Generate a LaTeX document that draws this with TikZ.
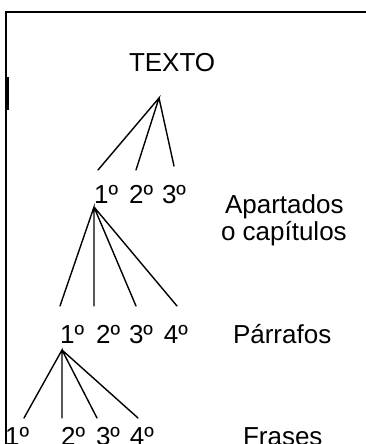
\documentclass[tikz,border=0pt]{standalone}
\usepackage{fontspec}
\setmainfont{Liberation Sans}
\begin{document}
\begin{tikzpicture}[x=1pt,y=-1pt,
  lbl/.style={anchor=base west,inner sep=0pt,outer sep=0pt,font=\fontsize{26}{30}\selectfont},
  branch/.style={line width=1.4pt,line cap=round},
  frame/.style={line width=2pt}]
\useasboundingbox (0,0) rectangle (366,444);
% frame
\draw[frame] (366,12) -- (6,12) -- (6,444);
\fill (5,77) rectangle (9,110);
% texts
\node[lbl] (texto) at (129,71) {TEXTO};
\node[lbl] (a1) at (94.2,203) {1º};
\node[lbl] (a2) at (129.2,203) {2º};
\node[lbl] (a3) at (162,203) {3º};
\node[lbl] (apart) at (225,213) {Apartados};
\node[lbl] (capit) at (221,240.5) {o capítulos};
\node[lbl] (p1) at (60.2,343) {1º};
\node[lbl] (p2) at (96.2,343) {2º};
\node[lbl] (p3) at (129,343) {3º};
\node[lbl] (p4) at (163.8,343) {4º};
\node[lbl] (parr) at (233,343) {Párrafos};
\node[lbl] (f1) at (5.2,445.6) {1º};
\node[lbl] (f2) at (61.2,445.6) {2º};
\node[lbl] (f3) at (96,445.6) {3º};
\node[lbl] (f4) at (129.8,445.6) {4º};
\node[lbl] (fras) at (243,445.6) {Frases};
% tree 1
\coordinate (t1) at (159,98);
\coordinate (t1a) at (98,170);
\coordinate (t1b) at (136,170);
\coordinate (t1c) at (174,166);
\draw[branch] (t1a) -- (t1) -- (t1b) (t1) -- (t1c);
% tree 2
\coordinate (t2) at (94,207);
\coordinate (t2a) at (60,306);
\coordinate (t2b) at (94,306);
\coordinate (t2c) at (136,306);
\coordinate (t2d) at (177,306);
\draw[branch] (t2a) -- (t2) -- (t2b) (t2) -- (t2c) (t2) -- (t2d);
% tree 3
\coordinate (t3) at (62,350);
\coordinate (t3a) at (24,418);
\coordinate (t3b) at (62,418);
\coordinate (t3c) at (97,418);
\coordinate (t3d) at (138,418);
\draw[branch] (t3a) -- (t3) -- (t3b) (t3) -- (t3c) (t3) -- (t3d);
\end{tikzpicture}
\end{document}
